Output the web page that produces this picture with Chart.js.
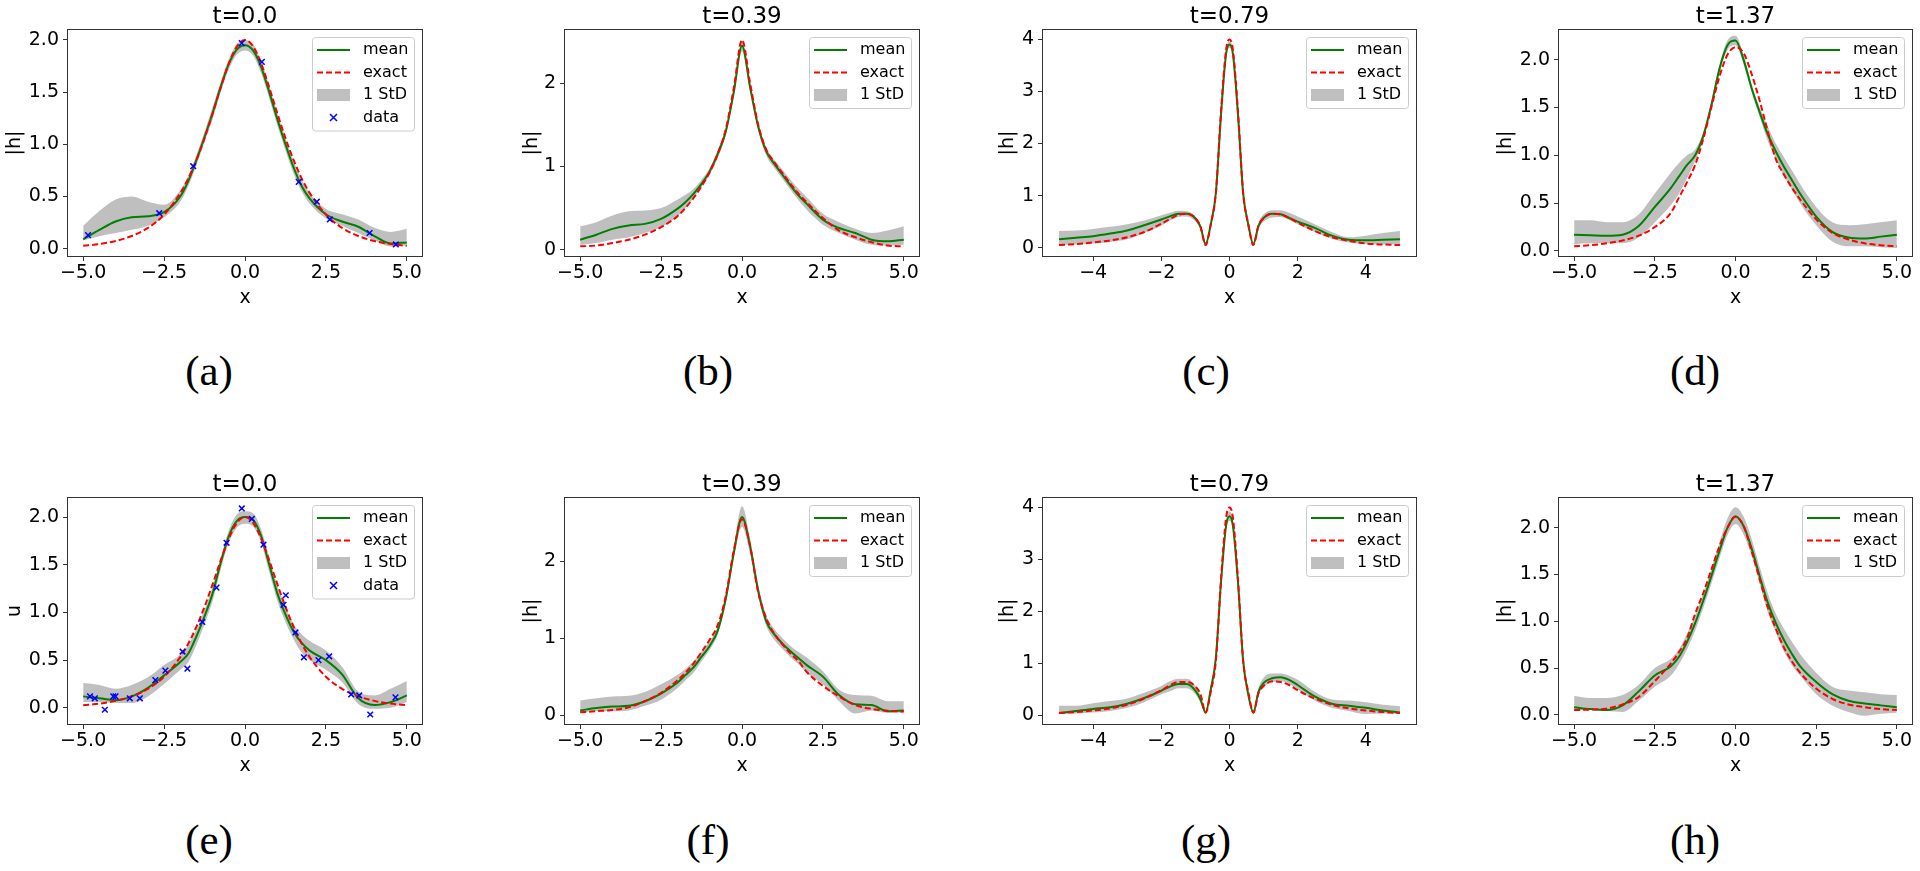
<!DOCTYPE html>
<html>
<head>
<meta charset="utf-8">
<script src="https://cdn.jsdelivr.net/npm/chart.js@4.4.0/dist/chart.umd.min.js"></script>
<style>
  html, body { margin: 0; padding: 0; background: #fff; width: 1920px; height: 871px; overflow: hidden; }
  canvas { position: absolute; }
  .sub { position: absolute; font-family: 'Liberation Serif', serif; font-size: 43px; color: #000;
         transform: translate(-50%, -50%); white-space: nowrap; line-height: 1; }
</style>
</head>
<body>
<script>
// x sample points
const xGrid = [-5, -4.5, -4, -3.5, -3, -2.5, -2, -1.75, -1.5, -1.25, -1, -0.75, -0.5, -0.25, 0, 0.25, 0.5, 0.75, 1, 1.25, 1.5, 1.75, 2, 2.5, 3, 3.5, 4, 4.5, 5];
const xGridPeak = [-5, -4.5, -4, -3.5, -3, -2.5, -2, -1.75, -1.5, -1.25, -1, -0.85, -0.7, -0.55, -0.4, -0.25, -0.1, 0, 0.1, 0.25, 0.4, 0.55, 0.7, 0.85, 1, 1.25, 1.5, 1.75, 2, 2.5, 3, 3.5, 4, 4.5, 5];

// t=0.0 exact (used in a and e)
const exactT0 = [0.027, 0.044, 0.073, 0.121, 0.199, 0.326, 0.532, 0.674, 0.850, 1.059, 1.296, 1.545, 1.774, 1.939, 2.0, 1.939, 1.774, 1.545, 1.296, 1.059, 0.850, 0.674, 0.532, 0.326, 0.199, 0.121, 0.073, 0.044, 0.027];

// (a)
const meanA  = [0.09, 0.18, 0.26, 0.30, 0.31, 0.35, 0.50, 0.65, 0.85, 1.07, 1.30, 1.55, 1.77, 1.91, 1.95, 1.90, 1.74, 1.50, 1.24, 1.00, 0.78, 0.60, 0.48, 0.33, 0.26, 0.21, 0.12, 0.05, 0.06];
const upperA = [0.22, 0.36, 0.47, 0.50, 0.45, 0.42, 0.56, 0.70, 0.90, 1.12, 1.36, 1.60, 1.82, 1.96, 2.00, 1.96, 1.80, 1.56, 1.30, 1.06, 0.84, 0.66, 0.53, 0.38, 0.33, 0.28, 0.20, 0.16, 0.19];
const lowerA = [0.08, 0.12, 0.15, 0.18, 0.22, 0.30, 0.45, 0.60, 0.80, 1.02, 1.24, 1.50, 1.72, 1.86, 1.90, 1.85, 1.68, 1.44, 1.18, 0.94, 0.72, 0.55, 0.43, 0.29, 0.22, 0.15, 0.08, 0.02, 0.03];
const dataAx = [-4.85, -2.65, -1.6, -0.1, 0.52, 1.66, 2.22, 2.62, 3.85, 4.66];
const dataAy = [0.13, 0.34, 0.79, 1.97, 1.79, 0.64, 0.45, 0.28, 0.15, 0.04];

// (b)
const exactB = [0.04, 0.05, 0.08, 0.12, 0.18, 0.27, 0.40, 0.50, 0.62, 0.76, 0.93, 1.15, 1.45, 1.95, 2.52, 2.00, 1.50, 1.20, 1.05, 0.92, 0.79, 0.67, 0.57, 0.38, 0.23, 0.15, 0.09, 0.05, 0.04];
const meanB  = [0.12, 0.18, 0.25, 0.29, 0.31, 0.37, 0.49, 0.57, 0.67, 0.79, 0.94, 1.15, 1.42, 1.90, 2.45, 1.95, 1.48, 1.18, 1.03, 0.90, 0.77, 0.65, 0.55, 0.36, 0.26, 0.20, 0.12, 0.10, 0.12];
const upperB = [0.28, 0.33, 0.41, 0.46, 0.47, 0.50, 0.60, 0.66, 0.73, 0.84, 0.98, 1.20, 1.47, 1.96, 2.50, 2.00, 1.53, 1.23, 1.08, 0.96, 0.84, 0.73, 0.63, 0.43, 0.33, 0.25, 0.20, 0.23, 0.28];
const lowerB = [0.06, 0.08, 0.12, 0.15, 0.20, 0.27, 0.40, 0.50, 0.62, 0.75, 0.90, 1.10, 1.38, 1.85, 2.38, 1.90, 1.43, 1.13, 0.98, 0.85, 0.72, 0.59, 0.48, 0.30, 0.20, 0.12, 0.06, 0.05, 0.06];

// (c)
const exactC = [0.05, 0.07, 0.10, 0.14, 0.20, 0.30, 0.46, 0.55, 0.63, 0.65, 0.57, 0.40, 0.05, 0.45, 1.05, 2.60, 3.80, 4.00, 3.80, 2.60, 1.05, 0.45, 0.05, 0.42, 0.57, 0.65, 0.64, 0.57, 0.48, 0.32, 0.20, 0.13, 0.08, 0.06, 0.05];
const meanC  = [0.16, 0.19, 0.22, 0.27, 0.33, 0.43, 0.54, 0.60, 0.65, 0.65, 0.56, 0.40, 0.07, 0.45, 1.05, 2.55, 3.72, 3.90, 3.72, 2.55, 1.05, 0.45, 0.07, 0.42, 0.57, 0.65, 0.64, 0.57, 0.50, 0.38, 0.23, 0.15, 0.14, 0.15, 0.16];
const upperC = [0.32, 0.33, 0.36, 0.40, 0.45, 0.52, 0.62, 0.67, 0.71, 0.70, 0.60, 0.44, 0.10, 0.50, 1.10, 2.62, 3.80, 3.96, 3.80, 2.62, 1.10, 0.50, 0.10, 0.48, 0.64, 0.72, 0.72, 0.67, 0.60, 0.45, 0.30, 0.20, 0.23, 0.28, 0.32];
const lowerC = [0.05, 0.06, 0.08, 0.11, 0.16, 0.28, 0.42, 0.52, 0.59, 0.60, 0.50, 0.35, 0.03, 0.38, 1.00, 2.50, 3.65, 3.84, 3.65, 2.50, 1.00, 0.38, 0.03, 0.36, 0.50, 0.58, 0.59, 0.53, 0.45, 0.30, 0.17, 0.10, 0.07, 0.06, 0.06];

// (d)
const exactD = [0.05, 0.06, 0.08, 0.11, 0.16, 0.25, 0.40, 0.56, 0.72, 0.90, 1.17, 1.50, 1.82, 2.05, 2.13, 2.07, 1.85, 1.57, 1.25, 0.96, 0.80, 0.66, 0.54, 0.33, 0.19, 0.12, 0.08, 0.06, 0.05];
const meanD  = [0.17, 0.165, 0.16, 0.17, 0.26, 0.46, 0.66, 0.78, 0.90, 1.00, 1.20, 1.52, 1.90, 2.15, 2.20, 2.00, 1.70, 1.45, 1.22, 1.04, 0.88, 0.74, 0.60, 0.36, 0.20, 0.14, 0.13, 0.15, 0.17];
const upperD = [0.32, 0.32, 0.30, 0.30, 0.38, 0.60, 0.82, 0.92, 1.00, 1.06, 1.24, 1.56, 1.94, 2.20, 2.25, 2.05, 1.74, 1.50, 1.30, 1.12, 0.98, 0.84, 0.70, 0.46, 0.30, 0.27, 0.28, 0.30, 0.32];
const lowerD = [0.07, 0.08, 0.08, 0.08, 0.14, 0.30, 0.48, 0.60, 0.76, 0.94, 1.16, 1.48, 1.86, 2.10, 2.15, 1.95, 1.66, 1.40, 1.15, 0.96, 0.78, 0.64, 0.50, 0.27, 0.10, 0.05, 0.05, 0.04, 0.03];

// (e)
const meanE  = [0.12, 0.10, 0.08, 0.12, 0.21, 0.34, 0.48, 0.57, 0.75, 0.96, 1.20, 1.52, 1.80, 1.96, 2.00, 1.97, 1.80, 1.50, 1.20, 0.98, 0.80, 0.68, 0.60, 0.50, 0.35, 0.10, 0.03, 0.06, 0.13];
const upperE = [0.26, 0.24, 0.20, 0.24, 0.32, 0.45, 0.56, 0.66, 0.82, 1.03, 1.27, 1.58, 1.86, 2.03, 2.06, 2.04, 1.87, 1.58, 1.28, 1.06, 0.88, 0.77, 0.70, 0.60, 0.43, 0.17, 0.13, 0.20, 0.28];
const lowerE = [0.06, 0.06, 0.05, 0.05, 0.12, 0.25, 0.40, 0.48, 0.66, 0.88, 1.12, 1.45, 1.73, 1.89, 1.93, 1.90, 1.73, 1.42, 1.12, 0.90, 0.72, 0.58, 0.50, 0.40, 0.27, 0.04, -0.01, 0.00, 0.06];
const dataEx = [-4.79, -4.64, -4.33, -4.07, -4.0, -3.56, -3.25, -2.77, -2.46, -1.93, -1.78, -1.32, -0.88, -0.57, -0.1, 0.21, 0.57, 1.19, 1.26, 1.56, 1.82, 2.27, 2.6, 3.28, 3.53, 3.87, 4.65];
const dataEy = [0.12, 0.10, -0.02, 0.12, 0.12, 0.10, 0.10, 0.29, 0.39, 0.59, 0.41, 0.90, 1.26, 1.73, 2.09, 1.98, 1.71, 1.08, 1.18, 0.79, 0.53, 0.50, 0.54, 0.14, 0.13, -0.07, 0.11];

// (f)
const exactF = [0.035, 0.05, 0.065, 0.10, 0.18, 0.29, 0.45, 0.55, 0.67, 0.82, 0.98, 1.17, 1.55, 2.15, 2.55, 2.20, 1.60, 1.26, 1.06, 0.92, 0.80, 0.70, 0.56, 0.38, 0.24, 0.13, 0.08, 0.055, 0.045];
const meanF  = [0.06, 0.09, 0.11, 0.12, 0.18, 0.28, 0.42, 0.52, 0.62, 0.76, 0.90, 1.10, 1.52, 2.12, 2.58, 2.20, 1.62, 1.22, 1.05, 0.93, 0.83, 0.74, 0.65, 0.50, 0.26, 0.14, 0.13, 0.05, 0.06];
const upperF = [0.19, 0.22, 0.24, 0.25, 0.30, 0.40, 0.52, 0.60, 0.70, 0.83, 0.96, 1.16, 1.58, 2.20, 2.72, 2.30, 1.70, 1.30, 1.12, 1.00, 0.90, 0.82, 0.75, 0.57, 0.33, 0.26, 0.25, 0.18, 0.18];
const lowerF = [0.03, 0.05, 0.05, 0.06, 0.12, 0.20, 0.35, 0.45, 0.55, 0.70, 0.85, 1.05, 1.45, 2.04, 2.45, 2.10, 1.55, 1.16, 0.98, 0.86, 0.75, 0.66, 0.55, 0.40, 0.18, 0.02, 0.06, 0.03, 0.03];

// (g)
const exactG = [0.04, 0.06, 0.09, 0.13, 0.20, 0.32, 0.48, 0.57, 0.64, 0.64, 0.55, 0.40, 0.05, 0.45, 1.05, 2.60, 3.80, 4.00, 3.80, 2.60, 1.05, 0.45, 0.05, 0.42, 0.56, 0.65, 0.64, 0.58, 0.48, 0.32, 0.20, 0.13, 0.09, 0.06, 0.04];
const meanG  = [0.04, 0.08, 0.12, 0.15, 0.22, 0.33, 0.47, 0.55, 0.60, 0.60, 0.47, 0.30, 0.05, 0.50, 1.10, 2.55, 3.65, 3.83, 3.65, 2.55, 1.05, 0.40, 0.05, 0.45, 0.62, 0.71, 0.73, 0.68, 0.58, 0.36, 0.22, 0.18, 0.14, 0.09, 0.05];
const upperG = [0.18, 0.18, 0.23, 0.27, 0.32, 0.43, 0.56, 0.65, 0.70, 0.70, 0.56, 0.38, 0.09, 0.58, 1.20, 2.65, 3.75, 3.92, 3.75, 2.65, 1.12, 0.48, 0.09, 0.52, 0.72, 0.80, 0.80, 0.76, 0.68, 0.45, 0.30, 0.28, 0.25, 0.20, 0.17];
const lowerG = [0.02, 0.03, 0.05, 0.08, 0.14, 0.25, 0.40, 0.46, 0.52, 0.52, 0.40, 0.24, 0.02, 0.42, 1.00, 2.45, 3.55, 3.74, 3.55, 2.45, 0.98, 0.34, 0.02, 0.38, 0.54, 0.63, 0.65, 0.60, 0.50, 0.28, 0.14, 0.08, 0.02, 0.03, 0.02];

// (h)
const exactH = [0.05, 0.055, 0.065, 0.11, 0.19, 0.36, 0.55, 0.67, 0.82, 1.08, 1.30, 1.55, 1.80, 2.00, 2.12, 2.02, 1.75, 1.45, 1.15, 0.92, 0.72, 0.57, 0.45, 0.28, 0.17, 0.11, 0.08, 0.06, 0.05];
const meanH  = [0.08, 0.06, 0.05, 0.10, 0.25, 0.42, 0.52, 0.62, 0.78, 0.98, 1.22, 1.48, 1.75, 2.00, 2.12, 2.02, 1.78, 1.48, 1.20, 0.98, 0.80, 0.65, 0.52, 0.35, 0.22, 0.15, 0.12, 0.10, 0.08];
const upperH = [0.20, 0.18, 0.18, 0.21, 0.32, 0.50, 0.60, 0.70, 0.87, 1.06, 1.30, 1.56, 1.84, 2.10, 2.22, 2.12, 1.88, 1.58, 1.30, 1.08, 0.92, 0.78, 0.65, 0.45, 0.30, 0.26, 0.24, 0.22, 0.21];
const lowerH = [0.04, 0.05, 0.04, 0.03, 0.15, 0.30, 0.42, 0.54, 0.70, 0.90, 1.14, 1.40, 1.67, 1.92, 2.04, 1.93, 1.70, 1.40, 1.10, 0.88, 0.68, 0.53, 0.42, 0.22, 0.10, 0.03, -0.01, 0.01, 0.02];

// tick values and labels
const xTicks5 = [-5, -2.5, 0, 2.5, 5];
const xLabels5 = ['\u22125.0', '\u22122.5', '0.0', '2.5', '5.0'];
const xTicks4 = [-4, -2, 0, 2, 4];
const xLabels4 = ['\u22124', '\u22122', '0', '2', '4'];
const yTicksHalf = [0, 0.5, 1, 1.5, 2];
const yLabelsHalf = ['0.0', '0.5', '1.0', '1.5', '2.0'];
const yTicks2 = [0, 1, 2];
const yLabels2 = ['0', '1', '2'];
const yTicks4 = [0, 1, 2, 3, 4];
const yLabels4 = ['0', '1', '2', '3', '4'];

Chart.defaults.font.family = "'DejaVu Sans', sans-serif";
Chart.defaults.color = '#000';

const panels = [
  { box: [67, 29, 423, 257], xs: xGrid, mean: meanA, exact: exactT0, upper: upperA, lower: lowerA, dx: dataAx, dy: dataAy,
    ylim: [-0.08, 2.105], yt: yTicksHalf, yl: yLabelsHalf, xt: xTicks5, xl: xLabels5, title: 't=0.0', ylabel: '|h|', ypad: 7, tag: '(a)', tagPos: [209, 370] },
  { box: [564, 29, 920, 257], xs: xGrid, mean: meanB, exact: exactB, upper: upperB, lower: lowerB,
    ylim: [-0.088, 2.65], yt: yTicks2, yl: yLabels2, xt: xTicks5, xl: xLabels5, title: 't=0.39', ylabel: '|h|', ypad: 27, tag: '(b)', tagPos: [708, 370] },
  { box: [1042, 29, 1417, 257], xs: xGridPeak, mean: meanC, exact: exactC, upper: upperC, lower: lowerC,
    ylim: [-0.18, 4.2], yt: yTicks4, yl: yLabels4, xt: xTicks4, xl: xLabels4, title: 't=0.79', ylabel: '|h|', ypad: 25, tag: '(c)', tagPos: [1206, 370] },
  { box: [1558, 29, 1913, 257], xs: xGrid, mean: meanD, exact: exactD, upper: upperD, lower: lowerD,
    ylim: [-0.063, 2.32], yt: yTicksHalf, yl: yLabelsHalf, xt: xTicks5, xl: xLabels5, title: 't=1.37', ylabel: '|h|', ypad: 7, tag: '(d)', tagPos: [1695, 370] },
  { box: [67, 497, 423, 725], xs: xGrid, mean: meanE, exact: exactT0, upper: upperE, lower: lowerE, dx: dataEx, dy: dataEy,
    ylim: [-0.18, 2.21], yt: yTicksHalf, yl: yLabelsHalf, xt: xTicks5, xl: xLabels5, title: 't=0.0', ylabel: 'u', ypad: 7, tag: '(e)', tagPos: [209, 839] },
  { box: [564, 497, 920, 725], xs: xGrid, mean: meanF, exact: exactF, upper: upperF, lower: lowerF,
    ylim: [-0.13, 2.84], yt: yTicks2, yl: yLabels2, xt: xTicks5, xl: xLabels5, title: 't=0.39', ylabel: '|h|', ypad: 27, tag: '(f)', tagPos: [708, 839] },
  { box: [1042, 497, 1417, 725], xs: xGridPeak, mean: meanG, exact: exactG, upper: upperG, lower: lowerG,
    ylim: [-0.19, 4.2], yt: yTicks4, yl: yLabels4, xt: xTicks4, xl: xLabels4, title: 't=0.79', ylabel: '|h|', ypad: 25, tag: '(g)', tagPos: [1206, 839] },
  { box: [1558, 497, 1913, 725], xs: xGrid, mean: meanH, exact: exactH, upper: upperH, lower: lowerH,
    ylim: [-0.11, 2.33], yt: yTicksHalf, yl: yLabelsHalf, xt: xTicks5, xl: xLabels5, title: 't=1.37', ylabel: '|h|', ypad: 7, tag: '(h)', tagPos: [1695, 839] }
];

const FRAME = '#333';

// matplotlib-like frame, title and legend
const decor = {
  id: 'mplDecor',
  afterDraw(chart, args, opts) {
    const ctx = chart.ctx;
    const a = chart.chartArea;
    ctx.save();
    // frame
    ctx.strokeStyle = FRAME;
    ctx.lineWidth = 1;
    ctx.strokeRect(Math.round(a.left) + 0.5, Math.round(a.top) + 0.5,
                   Math.round(a.right - a.left) - 1, Math.round(a.bottom - a.top) - 1);
    // title
    ctx.fillStyle = '#000';
    ctx.font = "23px 'DejaVu Sans'";
    ctx.textAlign = 'center';
    ctx.textBaseline = 'alphabetic';
    ctx.fillText(opts.title, (a.left + a.right) / 2, a.top - 6);
    // legend box
    const items = opts.items;
    const bw = 102, bh = 26 + (items.length - 1) * 22.5;
    const bx = a.right - 9 - bw, by = a.top + 8;
    ctx.beginPath();
    ctx.roundRect(bx + 0.5, by + 0.5, bw, bh, 3);
    ctx.fillStyle = 'rgba(255,255,255,0.8)';
    ctx.fill();
    ctx.strokeStyle = '#cccccc';
    ctx.stroke();
    ctx.font = "16px 'DejaVu Sans'";
    ctx.textAlign = 'left';
    ctx.textBaseline = 'middle';
    items.forEach((it, i) => {
      const cy = by + 13 + i * 22.5;
      const x0 = bx + 5, x1 = bx + 38;
      if (it === 'mean') {
        ctx.strokeStyle = '#008000'; ctx.lineWidth = 2; ctx.setLineDash([]);
        ctx.beginPath(); ctx.moveTo(x0, cy); ctx.lineTo(x1, cy); ctx.stroke();
      } else if (it === 'exact') {
        ctx.strokeStyle = '#ff0000'; ctx.lineWidth = 2; ctx.setLineDash([6, 3]);
        ctx.beginPath(); ctx.moveTo(x0, cy); ctx.lineTo(x1, cy); ctx.stroke();
        ctx.setLineDash([]);
      } else if (it === '1 StD') {
        ctx.fillStyle = 'rgba(128,128,128,0.5)';
        ctx.fillRect(x0, cy - 6, x1 - x0, 12);
      } else if (it === 'data') {
        const cx = (x0 + x1) / 2, r = 3.5;
        ctx.strokeStyle = '#0000ff'; ctx.lineWidth = 1.5;
        ctx.beginPath();
        ctx.moveTo(cx - r, cy - r); ctx.lineTo(cx + r, cy + r);
        ctx.moveTo(cx - r, cy + r); ctx.lineTo(cx + r, cy - r);
        ctx.stroke();
      }
      ctx.fillStyle = '#000';
      ctx.fillText(it, bx + 51, cy);
    });
    ctx.restore();
  }
};

function zip(xs, ys) {
  return xs.map((x, i) => ({ x: x, y: ys[i] }));
}

function makePanel(p) {
  const [L, T, R, B] = p.box;
  const padL = 70, padT = 29, padR = 6, padB = 52;
  const w = R - L + padL + padR, h = B - T + padT + padB;
  const cv = document.createElement('canvas');
  cv.width = w; cv.height = h;
  cv.style.left = (L - padL) + 'px';
  cv.style.top = (T - padT) + 'px';
  cv.style.width = w + 'px';
  cv.style.height = h + 'px';
  document.body.appendChild(cv);

  const datasets = [];
  if (p.dx) {
    datasets.push({ label: 'data', data: zip(p.dx, p.dy), showLine: false, pointStyle: 'crossRot',
      pointRadius: 4, pointBorderWidth: 1.5, pointBorderColor: '#0000ff', borderColor: '#0000ff', order: 0 });
  }
  datasets.push({ label: 'exact', data: zip(p.xs, p.exact), borderColor: '#ff0000', borderWidth: 2,
    borderDash: [6, 3], pointRadius: 0, cubicInterpolationMode: 'monotone', order: 1 });
  datasets.push({ label: 'mean', data: zip(p.xs, p.mean), borderColor: '#008000', borderWidth: 2,
    pointRadius: 0, cubicInterpolationMode: 'monotone', order: 2 });
  datasets.push({ label: '1 StD', data: zip(p.xs, p.upper), borderColor: 'rgba(0,0,0,0)', borderWidth: 0,
    pointRadius: 0, cubicInterpolationMode: 'monotone', fill: '+1', backgroundColor: 'rgba(128,128,128,0.5)', order: 3 });
  datasets.push({ label: 'lower', data: zip(p.xs, p.lower), borderColor: 'rgba(0,0,0,0)', borderWidth: 0,
    pointRadius: 0, cubicInterpolationMode: 'monotone', fill: false, order: 4 });

  new Chart(cv.getContext('2d'), {
    type: 'line',
    data: { datasets: datasets },
    options: {
      responsive: false,
      animation: false,
      devicePixelRatio: 1,
      events: [],
      layout: { padding: { left: 0, top: padT, right: padR, bottom: 0 } },
      plugins: {
        legend: { display: false },
        tooltip: { enabled: false },
        mplDecor: { title: p.title, items: p.dx ? ['mean', 'exact', '1 StD', 'data'] : ['mean', 'exact', '1 StD'] }
      },
      scales: {
        x: {
          type: 'linear', min: -5.5, max: 5.5,
          afterBuildTicks: s => { s.ticks = p.xt.map(v => ({ value: v })); },
          afterFit: s => { s.height = padB; s.paddingLeft = 0; s.paddingRight = 0; },
          ticks: { autoSkip: false, maxRotation: 0, padding: 1, font: { size: 19 }, color: '#000',
                   callback: (v, i) => p.xl[i] },
          grid: { drawOnChartArea: false, drawTicks: true, tickLength: 4, color: FRAME },
          border: { display: false },
          title: { display: true, text: 'x', font: { size: 19 }, color: '#000', padding: { top: 0, bottom: 0 } }
        },
        y: {
          type: 'linear', min: p.ylim[0], max: p.ylim[1],
          afterBuildTicks: s => { s.ticks = p.yt.map(v => ({ value: v })); },
          afterFit: s => { s.width = padL; s.paddingTop = 0; s.paddingBottom = 0; },
          ticks: { autoSkip: false, padding: 4, font: { size: 19 }, color: '#000',
                   callback: (v, i) => p.yl[i] },
          grid: { drawOnChartArea: false, drawTicks: true, tickLength: 4, color: FRAME },
          border: { display: false },
          title: { display: true, text: p.ylabel, font: { size: 19 }, color: '#000', padding: { top: p.ypad, bottom: 0 } }
        }
      }
    },
    plugins: [decor]
  });

  const tag = document.createElement('div');
  tag.className = 'sub';
  tag.textContent = p.tag;
  tag.style.left = p.tagPos[0] + 'px';
  tag.style.top = p.tagPos[1] + 'px';
  document.body.appendChild(tag);
}

panels.forEach(makePanel);
</script>
</body>
</html>
